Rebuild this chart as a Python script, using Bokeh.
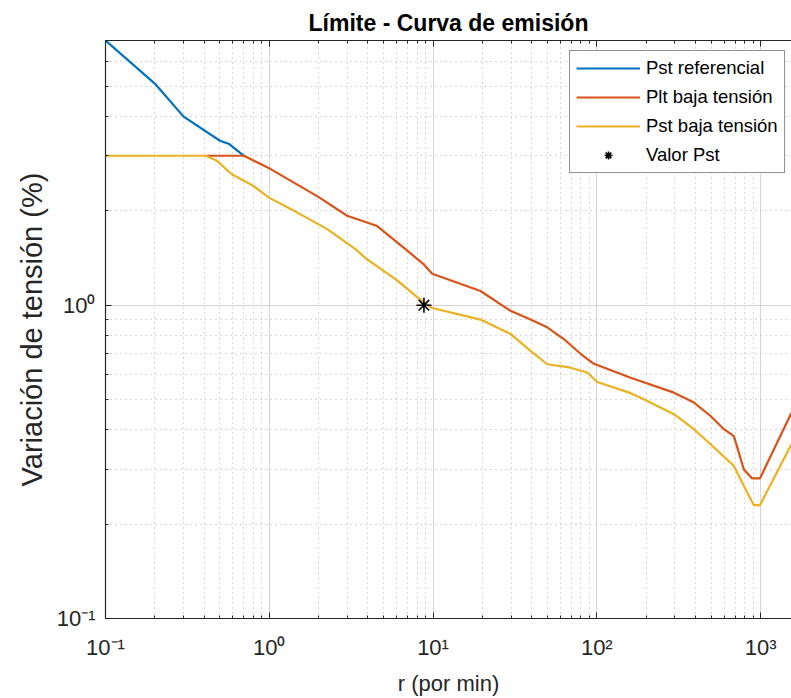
from bokeh.plotting import figure
from bokeh.models import FixedTicker, LogAxis, CustomJSTickFormatter, Legend, LegendItem, Range1d
from bokeh.embed import file_html
from bokeh.resources import INLINE

# ---- data ----
ref_r = [0.1, 0.2, 0.3, 0.5, 0.57, 0.7]
ref_d = [7.0, 5.1, 4.0, 3.35, 3.27, 3.0]

plt_r = [0.41, 0.70, 1.02, 1.96, 2.99, 4.56, 6.79, 7.82, 8.79, 9.88, 14.1, 19.5,
         29.7, 39.4, 49.8, 62.9, 79.6, 96, 161, 296, 392, 495, 597, 687, 791,
         889, 991, 1545]
plt_d = [3.0, 3.0, 2.72, 2.23, 1.93, 1.79, 1.51, 1.42, 1.35, 1.26, 1.18, 1.11,
         0.96, 0.90, 0.85, 0.78, 0.70, 0.65, 0.587, 0.526, 0.489, 0.443, 0.402,
         0.382, 0.299, 0.280, 0.280, 0.454]

pst_r = [0.1, 0.41, 0.48, 0.59, 0.805, 0.99, 1.35, 2.26, 3.36, 3.96, 6.04, 8.79,
         9.88, 19.5, 29.7, 39.4, 49.8, 68.2, 87.5, 100.7, 161, 194, 296, 392,
         495, 687, 791, 910, 991, 1545]
pst_d = [3.0, 3.0, 2.89, 2.62, 2.40, 2.21, 2.03, 1.75, 1.51, 1.40, 1.20, 1.02,
         0.98, 0.90, 0.81, 0.715, 0.648, 0.633, 0.610, 0.569, 0.524, 0.501,
         0.449, 0.402, 0.360, 0.307, 0.265, 0.230, 0.230, 0.360]

valor_r = [8.8]
valor_d = [1.0]

x_major = [0.1, 1, 10, 100, 1000]
x_minor = [m * d for d in [0.1, 1, 10, 100, 1000] for m in range(2, 10)]
y_major = [0.1, 1]
y_minor = [m * d for d in [0.1, 1] for m in range(2, 10)]

title_text = "Límite - Curva de emisión"
x_label = "r (por min)"
y_label = "Variación de tensión (%)"
names = ["Pst referencial", "Plt baja tensión", "Pst baja tensión", "Valor Pst"]

FONT = "Liberation Sans"
AX = "#262626"

p = figure(width=791, height=698, x_axis_type="log", y_axis_type="log",
           x_range=Range1d(0.1, 1545), y_range=Range1d(0.1, 7.0),
           output_backend="svg", toolbar_location=None,
           min_border_left=105, min_border_right=0, min_border_top=40,
           min_border_bottom=79)
p.outline_line_color = None
p.background_fill_color = "white"

p.title.text = title_text
p.title.align = "center"
p.title.text_font = FONT
p.title.text_font_size = "23px"
p.title.text_font_style = "bold"
p.title.text_color = "#000000"
p.title.standoff = 9

fmt = CustomJSTickFormatter(code="""
const e = Math.round(Math.log10(tick));
const sup = {'-':'\u207b','0':'\u2070','1':'\u00b9','2':'\u00b2','3':'\u00b3','4':'\u2074'};
return '10' + String(e).split('').map(c => sup[c]).join('');
""")

xt = FixedTicker(ticks=x_major, minor_ticks=x_minor)
yt = FixedTicker(ticks=y_major, minor_ticks=y_minor)

for ax, t in [(p.xaxis[0], xt), (p.yaxis[0], yt)]:
    ax.ticker = t
    ax.formatter = fmt
    ax.axis_line_color = AX
    ax.axis_line_width = 1.2
    ax.major_tick_line_color = AX
    ax.minor_tick_line_color = AX
    ax.major_tick_in = 6
    ax.major_tick_out = 0
    ax.minor_tick_in = 3
    ax.minor_tick_out = 0
    ax.major_label_text_font = FONT
    ax.major_label_text_font_size = "22px"
    ax.major_label_text_color = AX
    ax.axis_label_text_font = FONT
    ax.axis_label_text_font_style = "normal"
    ax.axis_label_text_color = AX

p.xaxis.axis_label = x_label
p.xaxis.axis_label_text_font_size = "22px"
p.xaxis.major_label_standoff = 16
p.xaxis.axis_label_standoff = 8
p.yaxis.axis_label = y_label
p.yaxis.axis_label_text_font_size = "29px"
p.yaxis.major_label_standoff = 10
p.yaxis.axis_label_standoff = 6

top_fmt = CustomJSTickFormatter(code="return '';")
top = LogAxis(ticker=FixedTicker(ticks=x_major, minor_ticks=x_minor),
              formatter=top_fmt,
              axis_line_color=AX, axis_line_width=1.2,
              major_tick_line_color=AX, minor_tick_line_color=AX,
              major_tick_in=6, major_tick_out=0, minor_tick_in=3, minor_tick_out=0,
              major_label_text_font_size="2px", major_label_text_color=None,
              major_label_standoff=0)
p.add_layout(top, "above")

for g in [p.xgrid[0], p.ygrid[0]]:
    g.grid_line_color = "#d4d4d4"
    g.grid_line_width = 1
    g.minor_grid_line_color = "#b0b0b0"
    g.minor_grid_line_dash = "1 4"
    g.minor_grid_line_width = 1
p.xgrid[0].ticker = xt
p.ygrid[0].ticker = yt

r1 = p.line(ref_r, ref_d, line_color="#0072BD", line_width=2.2)
r2 = p.line(plt_r, plt_d, line_color="#D95319", line_width=2.2)
r3 = p.line(pst_r, pst_d, line_color="#EDB120", line_width=2.2)
r4 = p.scatter(valor_r, valor_d, marker="asterisk", size=15, line_color="#000000",
               line_width=1.6)

legend = Legend(items=[LegendItem(label=names[0], renderers=[r1]),
                       LegendItem(label=names[1], renderers=[r2]),
                       LegendItem(label=names[2], renderers=[r3]),
                       LegendItem(label=names[3], renderers=[r4])],
                location=(464, 445))
legend.label_text_font = FONT
legend.label_text_font_size = "18.5px"
legend.label_text_color = "#000000"
legend.label_height = 20
legend.glyph_height = 20
legend.glyph_width = 64
legend.label_standoff = 6
legend.spacing = 7
legend.padding = 6
legend.margin = 0
legend.border_line_color = AX
legend.border_line_width = 1
legend.background_fill_alpha = 1
p.add_layout(legend, "center")

open("out.html", "w").write(file_html(p, INLINE))
